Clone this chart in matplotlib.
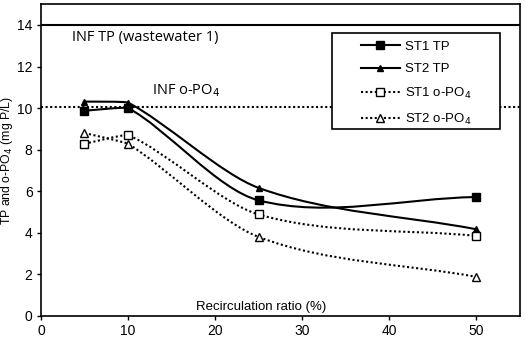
import matplotlib
matplotlib.use('Agg')
import numpy as np
import matplotlib.pyplot as plt
from matplotlib.path import Path
from matplotlib.patches import PathPatch, Rectangle
from matplotlib.lines import Line2D

plt.rcParams['font.family'] = ['Liberation Sans', 'DejaVu Sans']

ratio = [5, 10, 25, 50]
st1_tp = [9.87, 10.0, 5.56, 5.72]
st2_tp = [10.31, 10.26, 6.16, 4.17]
st1_po4 = [8.28, 8.70, 4.88, 3.85]
st2_po4 = [8.80, 8.28, 3.80, 1.88]
inf_tp = 14.0
inf_po4 = 10.06

x_ticks = [0, 10, 20, 30, 40, 50]
y_ticks = [0, 2, 4, 6, 8, 10, 12, 14]


def smooth_path(ax, xs, ys, k=0.33, ref_len=200.0):
    # Bezier through the points (Excel-like smoothed line), built in pixel space
    pts = ax.transData.transform(np.column_stack([xs, ys]))
    n = len(pts)
    verts = [pts[0]]
    codes = [Path.MOVETO]

    def tangent(i):
        a = pts[max(i - 1, 0)]
        b = pts[min(i + 1, n - 1)]
        d = b - a
        return d / np.hypot(*d)

    for i in range(n - 1):
        seg = np.hypot(*(pts[i + 1] - pts[i]))
        h = seg * k * min(1.0, seg / ref_len)
        c1 = pts[i] + tangent(i) * h
        c2 = pts[i + 1] - tangent(i + 1) * h
        verts += [c1, c2, pts[i + 1]]
        codes += [Path.CURVE4] * 3
    verts = ax.transData.inverted().transform(np.array(verts))
    return Path(verts, codes)


fig = plt.figure(figsize=(5.25, 3.46), dpi=100)
ax = fig.add_axes([0.078, 0.087, 0.912, 0.901])
ax.set_xlim(0, 55)
ax.set_ylim(0, 15)

dot = (0, (1, 1.2))
ax.axhline(inf_tp, color='black', lw=1.5, zorder=2)
ax.axhline(inf_po4, color='black', lw=1.5, ls=dot, zorder=2)

series = [
    (st1_tp, '-', 's', 'black', 5.5, 'ST1 TP'),
    (st2_tp, '-', '^', 'black', 5, 'ST2 TP'),
    (st1_po4, dot, 's', 'white', 6, 'ST1 o-PO$_4$'),
    (st2_po4, dot, '^', 'white', 6, 'ST2 o-PO$_4$'),
]
handles = []
for ys, ls, mk, fc, ms, lab in series:
    ax.add_patch(PathPatch(smooth_path(ax, ratio, ys), fill=False, ec='black',
                           lw=1.5, ls=ls, zorder=3))
    ax.plot(ratio, ys, ls='none', marker=mk, mfc=fc, mec='black', mew=1,
            ms=ms, zorder=4)
    handles.append(Line2D([], [], color='black', lw=1.5, ls=ls, marker=mk,
                          mfc=fc, mec='black', mew=1, ms=ms, label=lab))

ax.set_xticks(x_ticks)
ax.set_yticks(y_ticks)
ax.tick_params(labelsize=10, direction='out', length=3, width=1, pad=3)
for s in ax.spines.values():
    s.set_linewidth(1.2)

ax.set_ylabel('TP and o-PO$_4$ (mg P/L)', fontsize=8.8)
ax.yaxis.set_label_coords(-0.054, 0.5)
ax.text(0.46, 0.029, 'Recirculation ratio (%)', transform=ax.transAxes,
        ha='center', va='center', fontsize=9.5)
ax.text(3.6, 13.4, 'INF TP (wastewater 1)', fontsize=10.5, family='Open Sans',
        va='center')
ax.text(12.7, 10.85, 'INF o-PO$_4$', fontsize=10.5, family='Open Sans',
        va='center')

# legend box drawn separately, entries placed inside it
ax.add_patch(Rectangle((0.607, 0.599), 0.351, 0.308, transform=ax.transAxes,
                       fc='white', ec='black', lw=1.2, zorder=5))
leg = ax.legend(handles=handles, loc='upper left', bbox_to_anchor=(0.647, 0.918),
                fontsize=9.5, frameon=False, handlelength=2.9,
                handletextpad=0.4, labelspacing=0.8, borderpad=0.3)
leg.set_zorder(6)

fig.savefig('out.png', dpi=100)
